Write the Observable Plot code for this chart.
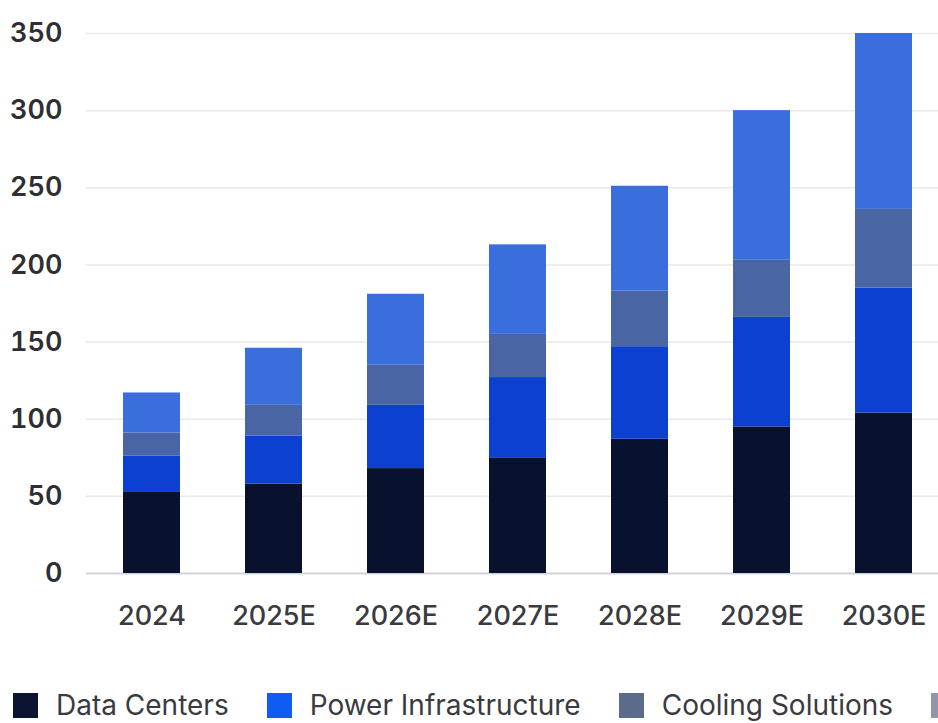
<!DOCTYPE html>
<html>
<head>
<meta charset="utf-8">
<script src="https://cdn.jsdelivr.net/npm/d3@7"></script>
<script src="https://cdn.jsdelivr.net/npm/@observablehq/plot@0.6"></script>
<style>
  html, body { margin: 0; padding: 0; background: #fff; }
  body { width: 938px; height: 723px; overflow: hidden; position: relative; font-family: Inter, "Noto Sans", sans-serif; }
  #chart { position: absolute; left: 0; top: 0; }
  #legend { position: absolute; left: 13px; top: 688px; height: 34px; display: flex; flex-wrap: nowrap; white-space: nowrap; align-items: center; font-size: 28px; line-height: 34px; color: #3a3a3f; }
  .item { display: flex; align-items: center; margin-right: 38px; flex: none; }
  .sw { width: 25px; height: 25px; margin-right: 18px; display: inline-block; flex: none; }
</style>
</head>
<body>
<div id="chart"></div>
<div id="legend"></div>
<script>
const years = ["2024", "2025E", "2026E", "2027E", "2028E", "2029E", "2030E"];
const seriesNames = ["Data Centers", "Power Infrastructure", "Cooling Solutions", "Networking"];
const dataCenters = [53, 58, 68, 75, 87, 95, 104];
const powerInfra = [23, 31, 41, 52, 60, 71, 81];
const cooling = [15, 20, 26, 28, 36, 37, 51];
const networking = [26, 37, 46, 58, 68, 97, 114];
const yTicks = [0, 50, 100, 150, 200, 250, 300, 350];
const colors = ["#08122e", "#0b40d0", "#4965a3", "#3a6edd"];
const legendColors = ["#0a1430", "#0f5cf5", "#5b6b8c", "#8f98ab"];

const seriesValues = [dataCenters, powerInfra, cooling, networking];
const rows = [];
seriesNames.forEach((s, i) => years.forEach((y, j) => rows.push({year: y, series: s, value: seriesValues[i][j]})));

const plot = Plot.plot({
  width: 950,
  height: 635,
  marginTop: 33,
  marginBottom: 62,
  marginLeft: 86,
  marginRight: 2,
  style: {maxWidth: "none", fontFamily: "Inter, sans-serif", background: "#fff", overflow: "hidden"},
  x: {domain: years, paddingInner: 0.536, paddingOuter: 0.277, label: null},
  y: {domain: [0, 350], ticks: yTicks, label: null},
  color: {domain: seriesNames, range: colors},
  marks: [
    Plot.gridY(yTicks.filter(d => d > 0), {stroke: "#e9e9ee", strokeOpacity: 1, strokeWidth: 1.5}),
    Plot.ruleY([0], {stroke: "#cfd2d8", strokeWidth: 2}),
    Plot.barY(rows, Plot.stackY({x: "year", y: "value", fill: "series", order: seriesNames})),
    Plot.axisY({ticks: yTicks, tickSize: 0, tickPadding: 24, fontSize: 27, fontWeight: 600, fill: "#2e2e33"}),
    Plot.axisX({tickSize: 0, tickPadding: 32, fontSize: 27, fontWeight: 500, fill: "#3a3a40"})
  ]
});
document.getElementById("chart").appendChild(plot);

const legend = document.getElementById("legend");
seriesNames.forEach((s, i) => {
  const item = document.createElement("div");
  item.className = "item";
  const sw = document.createElement("span");
  sw.className = "sw";
  sw.style.background = legendColors[i];
  const t = document.createElement("span");
  t.textContent = s;
  item.appendChild(sw);
  item.appendChild(t);
  legend.appendChild(item);
});
</script>
</body>
</html>
